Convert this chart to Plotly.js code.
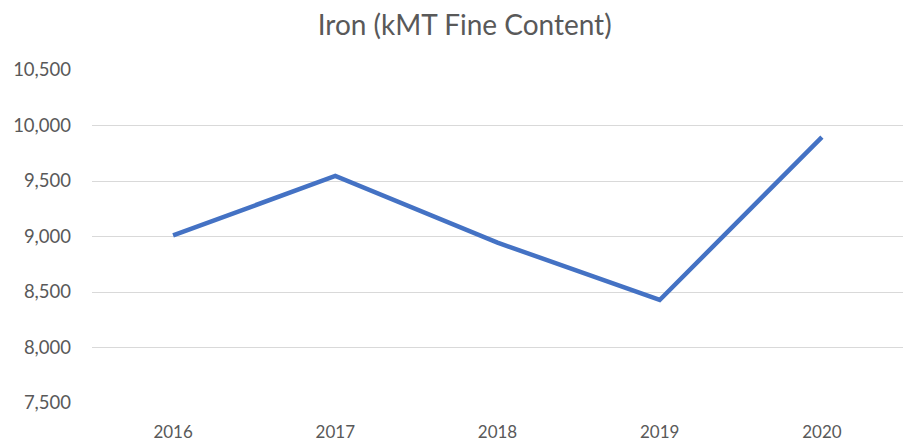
<!DOCTYPE html>
<html>
<head>
<meta charset="utf-8">
<script src="https://cdn.plot.ly/plotly-3.0.1.min.js"></script>
<style>html,body{margin:0;padding:0;background:#fff;}#chart{width:904px;height:442px;}</style>
</head>
<body>
<div id="chart"></div>
<script>
const years = ['2016', '2017', '2018', '2019', '2020'];
const ironValues = [9010, 9545, 8945, 8428, 9895];
const yTicks = [7500, 8000, 8500, 9000, 9500, 10000, 10500];
const yTickLabels = ['7,500', '8,000', '8,500', '9,000', '9,500', '10,000', '10,500'];

const trace = {
  x: years,
  y: ironValues,
  type: 'scatter',
  mode: 'lines',
  line: {color: '#4472C4', width: 4.5},
  hoverinfo: 'x+y'
};

const layout = {
  width: 904,
  height: 442,
  margin: {l: 92, r: 1, t: 70, b: 39},
  paper_bgcolor: '#ffffff',
  plot_bgcolor: '#ffffff',
  font: {family: 'Lato, "Open Sans", sans-serif', color: '#595959', size: 17},
  title: {
    text: 'Iron (kMT Fine Content)',
    font: {family: 'Lato, "Open Sans", sans-serif', size: 28, color: '#595959'},
    x: 0.514, xanchor: 'center', y: 0.943, yanchor: 'middle'
  },
  xaxis: {
    type: 'category',
    range: [-0.5, 4.5],
    showgrid: false,
    zeroline: false,
    showline: false,
    ticks: '',
    ticklabelstandoff: 17,
    tickfont: {size: 17, color: '#595959'},
    fixedrange: true
  },
  yaxis: {
    range: [7500, 10500],
    tickvals: yTicks,
    ticktext: yTickLabels,
    showgrid: true,
    gridcolor: '#d9d9d9',
    gridwidth: 1,
    zeroline: false,
    showline: false,
    ticks: '',
    ticklabelstandoff: 20,
    tickfont: {size: 18.5, color: '#595959'},
    fixedrange: true
  },
  showlegend: false
};

Plotly.newPlot('chart', [trace], layout, {displayModeBar: false, staticPlot: true});
</script>
</body>
</html>
